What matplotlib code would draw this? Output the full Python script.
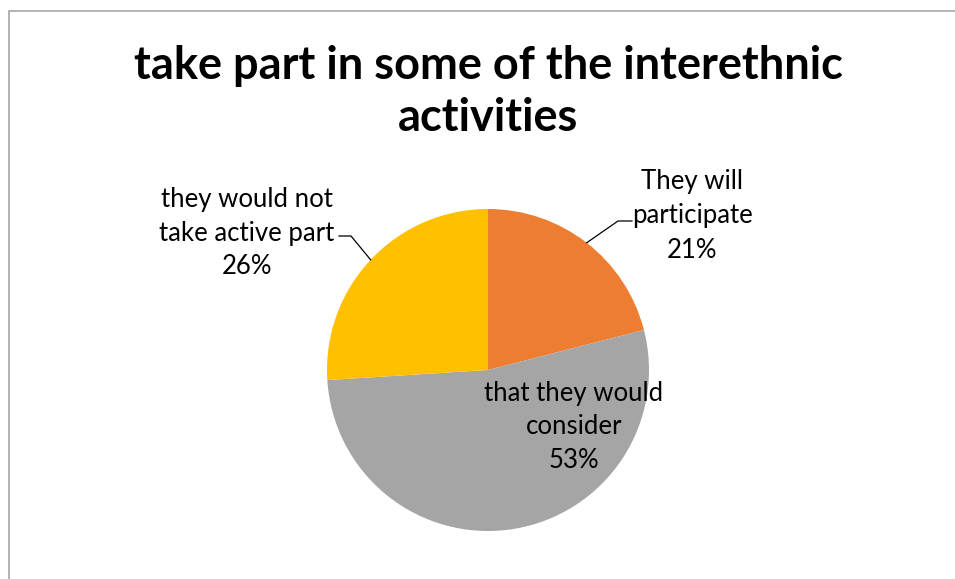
"""Pie chart: willingness to take part in interethnic activities."""

import matplotlib

matplotlib.use("Agg")
import matplotlib.pyplot as plt
import numpy as np
from matplotlib.patches import Rectangle

TITLE = "take part in some of the interethnic\nactivities"
CATEGORIES = ["They will\nparticipate", "that they would\nconsider", "they would not\ntake active part"]
SHARES = [21, 53, 26]
COLORS = ["#ED7D31", "#A5A5A5", "#FFC000"]

WIDTH, HEIGHT = 955, 579
CENTER = (488, HEIGHT - 370)
RADIUS = 161

plt.rcParams["font.family"] = ["Lato", "DejaVu Sans"]

fig = plt.figure(figsize=(WIDTH / 100, HEIGHT / 100), dpi=100)
ax = fig.add_axes([0, 0, 1, 1])

wedges, _ = ax.pie(
    SHARES,
    colors=COLORS,
    startangle=90,
    counterclock=False,
    center=CENTER,
    radius=RADIUS,
    wedgeprops={"linewidth": 0},
)
ax.set_xlim(0, WIDTH)
ax.set_ylim(0, HEIGHT)
ax.set_aspect("equal")
ax.axis("off")

# chart area frame (only top and left edges fall inside the canvas)
ax.add_patch(
    Rectangle((8.5, -20), WIDTH + 40, HEIGHT - 11 + 20, fill=False,
              edgecolor="#A6A6A6", linewidth=1.2, clip_on=False)
)

ax.text(488, HEIGHT - 92, TITLE, ha="center", va="center", fontsize=32.5,
        fontweight="bold", linespacing=1.28, color="black")

# label anchors: text centre and leader elbow (None = label sits inside the slice)
label_pos = [(692, HEIGHT - 216), (574, HEIGHT - 427), (247, HEIGHT - 233)]
elbows = [((618, 632), HEIGHT - 221), None, ((351, 339), HEIGHT - 236)]

for wedge, name, share, pos, elbow in zip(wedges, CATEGORIES, SHARES, label_pos, elbows):
    ax.text(pos[0], pos[1], f"{name}\n{share}%", ha="center", va="center",
            fontsize=18.5, linespacing=1.45, color="black")
    if elbow is None:
        continue
    mid = np.deg2rad((wedge.theta1 + wedge.theta2) / 2)
    edge = (CENTER[0] + RADIUS * np.cos(mid), CENTER[1] + RADIUS * np.sin(mid))
    (knee_x, end_x), knee_y = elbow
    ax.plot([edge[0], knee_x, end_x], [edge[1], knee_y, knee_y], color="black",
            linewidth=0.9)

fig.savefig("out.png", dpi=100)
